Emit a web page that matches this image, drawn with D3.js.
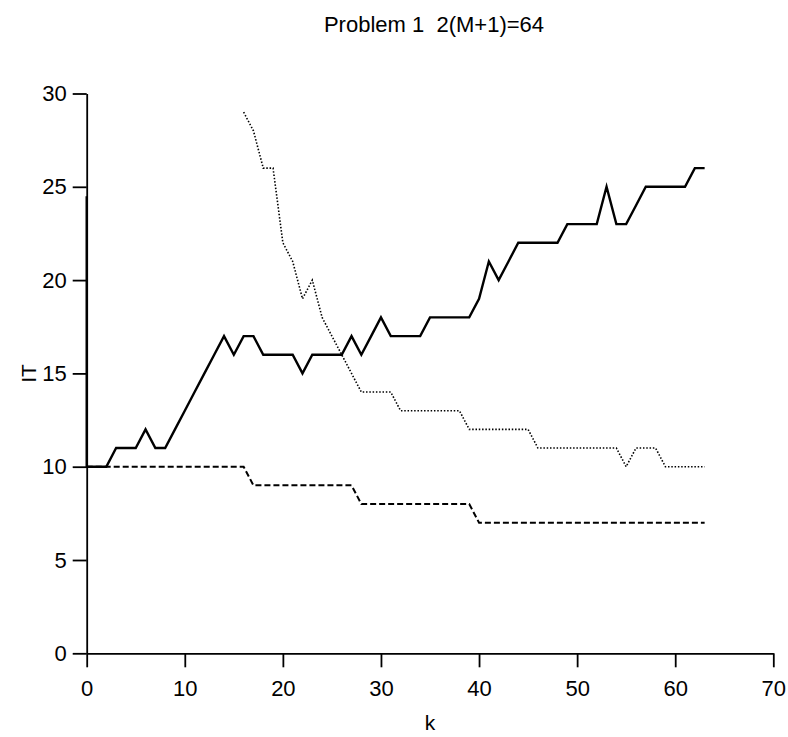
<!DOCTYPE html>
<html>
<head>
<meta charset="utf-8">
<script src="https://cdn.jsdelivr.net/npm/d3@7"></script>
<style>
  body { margin: 0; background: #fff; }
  svg text { font-family: "Liberation Sans", Arial, Helvetica, sans-serif; fill: #000; }
</style>
</head>
<body>
<div id="chart"></div>
<script>
// iteration counts IT per step k, three methods
const kSolid = [0, 0, 1, 2, 3, 4, 5, 6, 7, 8, 9, 10, 11, 12, 13, 14, 15, 16, 17, 18, 19, 20,
  21, 22, 23, 24, 25, 26, 27, 28, 29, 30, 31, 32, 33, 34, 35, 36, 37, 38, 39, 40, 41, 42,
  43, 44, 45, 46, 47, 48, 49, 50, 51, 52, 53, 54, 55, 56, 57, 58, 59, 60, 61, 62, 63];
const itSolid = [24.5, 10, 10, 10, 11, 11, 11, 12, 11, 11, 12, 13, 14, 15, 16, 17, 16, 17, 17, 16, 16, 16,
  16, 15, 16, 16, 16, 16, 17, 16, 17, 18, 17, 17, 17, 17, 18, 18, 18, 18, 18, 19, 21, 20,
  21, 22, 22, 22, 22, 22, 23, 23, 23, 23, 25, 23, 23, 24, 25, 25, 25, 25, 25, 26, 26];

const kDashed = d3.range(0, 64);
const itDashed = [10, 10, 10, 10, 10, 10, 10, 10, 10, 10, 10, 10, 10, 10, 10, 10, 10, 9, 9, 9,
  9, 9, 9, 9, 9, 9, 9, 9, 8, 8, 8, 8, 8, 8, 8, 8, 8, 8, 8, 8, 7, 7, 7, 7, 7, 7, 7, 7, 7, 7,
  7, 7, 7, 7, 7, 7, 7, 7, 7, 7, 7, 7, 7, 7];

const kDotted = d3.range(16, 64);
const itDotted = [29, 28, 26, 26, 22, 21, 19, 20, 18, 17, 16, 15, 14, 14, 14, 14, 13, 13, 13,
  13, 13, 13, 13, 12, 12, 12, 12, 12, 12, 12, 11, 11, 11, 11, 11, 11, 11, 11, 11, 10, 11,
  11, 11, 10, 10, 10, 10, 10];

const xTicks = [0, 10, 20, 30, 40, 50, 60, 70];
const yTicks = [0, 5, 10, 15, 20, 25, 30];

const width = 788, height = 737;
const margin = { top: 93.5, right: 14.7, bottom: 83.7, left: 86.7 };

const svg = d3.select('#chart').append('svg')
  .attr('width', width).attr('height', height);

const x = d3.scaleLinear().domain([0, 70]).range([margin.left, width - margin.right]);
const y = d3.scaleLinear().domain([0, 30]).range([height - margin.bottom, margin.top]);

svg.append('text')
  .attr('x', 434).attr('y', 32)
  .attr('text-anchor', 'middle')
  .attr('font-size', '22px')
  .style('white-space', 'pre')
  .text('Problem 1  2(M+1)=64');

const xAxis = svg.append('g')
  .attr('transform', `translate(0,${y(0)})`)
  .call(d3.axisBottom(x).tickValues(xTicks).tickSize(14).tickSizeOuter(0).tickPadding(13.5));

const yAxis = svg.append('g')
  .attr('transform', `translate(${x(0)},0)`)
  .call(d3.axisLeft(y).tickValues(yTicks).tickSize(14).tickSizeOuter(0).tickPadding(6));

[xAxis, yAxis].forEach(ax => {
  ax.selectAll('path, line').attr('stroke', '#000').attr('stroke-width', 1.8);
  ax.selectAll('text').attr('font-size', '22px').attr('fill', '#000')
    .attr('font-family', '"Liberation Sans", Arial, sans-serif');
});

svg.append('text')
  .attr('x', 430).attr('y', 730)
  .attr('text-anchor', 'middle')
  .attr('font-size', '21px')
  .text('k');

svg.append('text')
  .attr('transform', `translate(36,${y(15)}) rotate(-90)`)
  .attr('text-anchor', 'middle')
  .attr('font-size', '21px')
  .text('IT');

const line = d3.line().x(d => x(d[0])).y(d => y(d[1]));

svg.append('path')
  .datum(d3.zip(kDashed, itDashed))
  .attr('fill', 'none').attr('stroke', '#000')
  .attr('stroke-width', 2).attr('stroke-dasharray', '6,3')
  .attr('d', line);

svg.append('path')
  .datum(d3.zip(kDotted, itDotted))
  .attr('fill', 'none').attr('stroke', '#000')
  .attr('stroke-width', 1.6).attr('stroke-dasharray', '1.5,1.8')
  .attr('d', line);

svg.append('path')
  .datum(d3.zip(kSolid, itSolid))
  .attr('fill', 'none').attr('stroke', '#000')
  .attr('stroke-width', 2.4).attr('stroke-linejoin', 'miter')
  .attr('d', line);
</script>
</body>
</html>
